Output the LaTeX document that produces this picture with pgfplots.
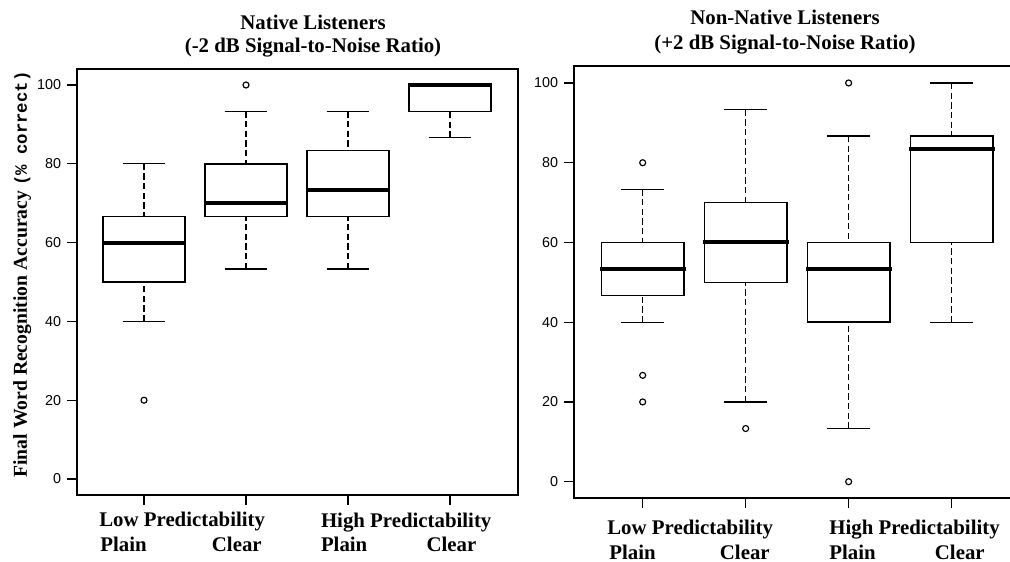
\documentclass[border=0pt]{standalone}
\usepackage{fontspec}
\setmainfont{Liberation Serif}
\newfontfamily\sansf{Liberation Sans}
\newfontfamily\monof{Liberation Mono}
\usepackage{pgfplots}
\pgfplotsset{compat=1.18}
\usepgfplotslibrary{statistics}

\pgfplotsset{
  myaxis/.style={
    scale only axis, anchor=south west,
    axis line style={line width=0.9pt},
    xtick={1,2,3,4}, xticklabels={},
    ytick={0,20,40,60,80,100},
    tick align=outside, xtick pos=left, ytick pos=left,
    major tick length=6pt,
    tick style={line width=0.8pt, black},
    yticklabel style={font=\sansf\fontsize{8.6}{10}\selectfont},
    /pgf/number format/assume math mode=true,
    boxplot/draw direction=y,
    boxplot/box extend=0.8,
    boxplot/whisker extend=0.42,
    boxplot/every box/.style={line width=0.9pt},
    boxplot/every median/.style={line width=2.4pt, shorten <=-1pt, shorten >=-1pt},
    boxplot/draw/lower whisker/.code={%
      \draw[line width=0.8pt, dash pattern=on 3.8pt off 2pt]
        (boxplot box cs:\pgfplotsboxplotvalue{lower whisker},0.5) --
        (boxplot box cs:\pgfplotsboxplotvalue{lower quartile},0.5);
      \draw[line width=0.8pt]
        (boxplot whisker cs:\pgfplotsboxplotvalue{lower whisker},0) --
        (boxplot whisker cs:\pgfplotsboxplotvalue{lower whisker},1);
    },
    boxplot/draw/upper whisker/.code={%
      \draw[line width=0.8pt, dash pattern=on 3.8pt off 2pt]
        (boxplot box cs:\pgfplotsboxplotvalue{upper whisker},0.5) --
        (boxplot box cs:\pgfplotsboxplotvalue{upper quartile},0.5);
      \draw[line width=0.8pt]
        (boxplot whisker cs:\pgfplotsboxplotvalue{upper whisker},0) --
        (boxplot whisker cs:\pgfplotsboxplotvalue{upper whisker},1);
    },
    clip=false,
  },
  outl/.style={only marks, mark=o, mark size=1.8pt, black, mark options={line width=0.7pt}},
}

\begin{document}
\begin{tikzpicture}
\clip (0,0) rectangle (606pt,337.2pt);

% ---------------- Left panel: Native listeners
\begin{axis}[myaxis, at={(46.2pt,40.2pt)}, width=264.6pt, height=255.6pt,
  xmin=0.343, xmax=4.667, ymin=-4.06, ymax=104.06]
\addplot[black, boxplot prepared={draw position=1, lower whisker=40, lower quartile=50, median=60, upper quartile=66.67, upper whisker=80}] coordinates {};
\addplot[black, boxplot prepared={draw position=2, lower whisker=53.33, lower quartile=66.67, median=70, upper quartile=80, upper whisker=93.33}] coordinates {};
\addplot[black, boxplot prepared={draw position=3, lower whisker=53.33, lower quartile=66.67, median=73.33, upper quartile=83.33, upper whisker=93.33}] coordinates {};
\addplot[black, boxplot prepared={draw position=4, lower whisker=86.67, lower quartile=93.33, median=100, upper quartile=100, upper whisker=100}] coordinates {};
\addplot[outl] coordinates {(1,20) (2,100)};
\end{axis}

% ---------------- Right panel: Non-native listeners
\begin{axis}[myaxis, at={(344.4pt,38.4pt)}, width=267.8pt, height=259.2pt,
  xmin=0.333, xmax=4.667, ymin=-4.09, ymax=104.26]
\addplot[black, boxplot prepared={draw position=1, lower whisker=40, lower quartile=46.67, median=53.33, upper quartile=60, upper whisker=73.33}] coordinates {};
\addplot[black, boxplot prepared={draw position=2, lower whisker=20, lower quartile=50, median=60, upper quartile=70, upper whisker=93.33}] coordinates {};
\addplot[black, boxplot prepared={draw position=3, lower whisker=13.33, lower quartile=40, median=53.33, upper quartile=60, upper whisker=86.67}] coordinates {};
\addplot[black, boxplot prepared={draw position=4, lower whisker=40, lower quartile=60, median=83.33, upper quartile=86.67, upper whisker=100}] coordinates {};
\addplot[outl] coordinates {(1,80) (1,26.67) (1,20) (2,13.33) (3,100) (3,0)};
\end{axis}

% ---------------- Titles
\begin{scope}[every node/.style={font=\bfseries\fontsize{12.5}{15}\selectfont, inner sep=0pt}]
\node[anchor=base] at (187.8pt,319.6pt) {Native Listeners};
\node[anchor=base] at (187.8pt,305.6pt) {(-2 dB Signal-to-Noise Ratio)};
\node[anchor=base] at (471pt,322.2pt) {Non-Native Listeners};
\node[anchor=base] at (471pt,307.2pt) {(+2 dB Signal-to-Noise Ratio)};

% y label
\node[anchor=base, rotate=90, font=\bfseries\fontsize{11.8}{14}\selectfont] at (16.2pt,172.5pt) {Final Word Recognition Accuracy {\monof\fontsize{10.4}{13}\selectfont (\% correct)}};

% x category labels, left panel
\node[anchor=base west] at (59.4pt,21.2pt) {Low Predictability};
\node[anchor=base west] at (60pt,6.2pt) {Plain};
\node[anchor=base east] at (157.2pt,6.2pt) {Clear};
\node[anchor=base west] at (192.4pt,20.8pt) {High Predictability};
\node[anchor=base west] at (192.4pt,6.2pt) {Plain};
\node[anchor=base east] at (286pt,6.2pt) {Clear};

% x category labels, right panel
\node[anchor=base west] at (364.2pt,16.2pt) {Low Predictability};
\node[anchor=base west] at (365.4pt,1.4pt) {Plain};
\node[anchor=base east] at (462pt,1.4pt) {Clear};
\node[anchor=base west] at (497.4pt,16.2pt) {High Predictability};
\node[anchor=base west] at (497.4pt,1.4pt) {Plain};
\node[anchor=base east] at (591pt,1.4pt) {Clear};
\end{scope}
\end{tikzpicture}
\end{document}
